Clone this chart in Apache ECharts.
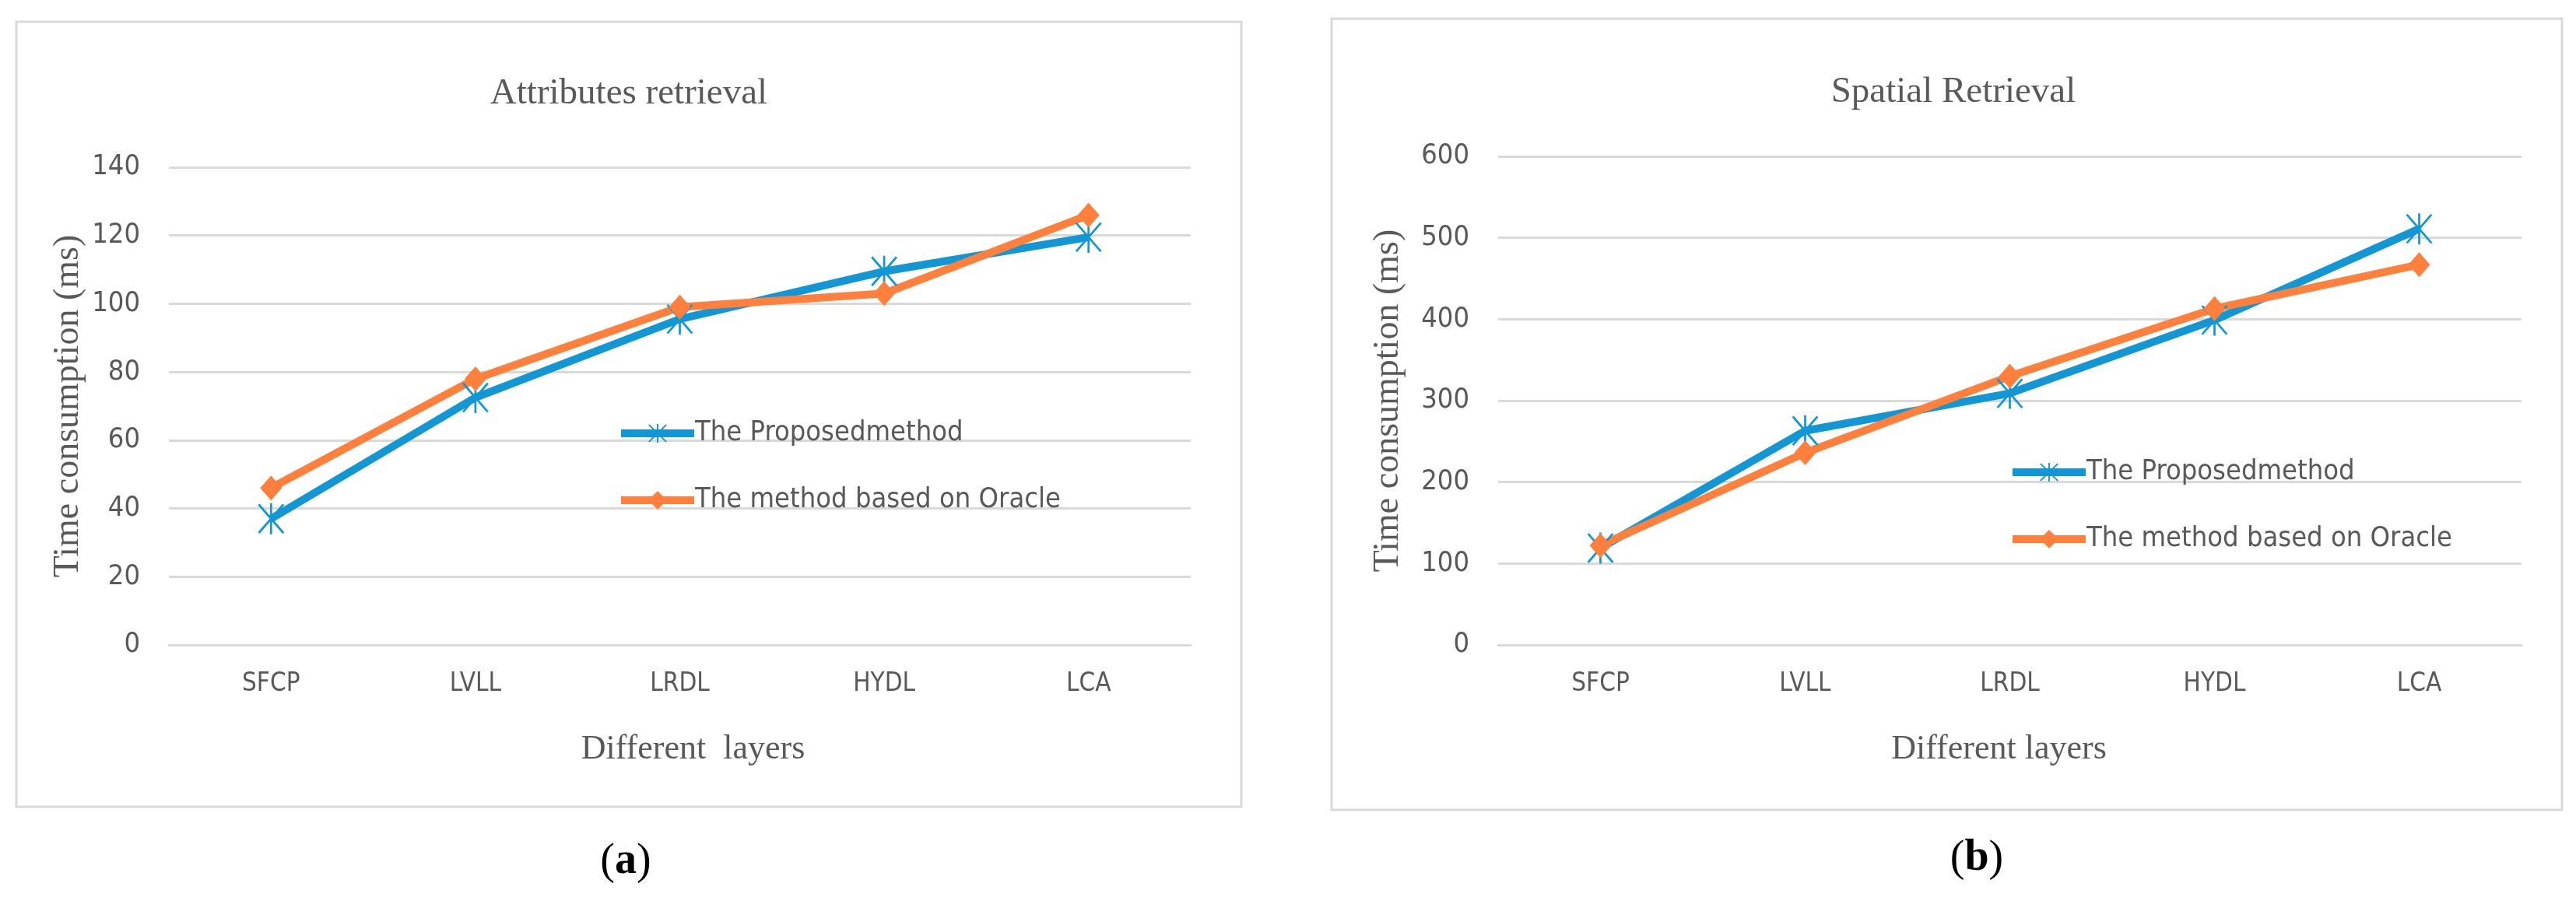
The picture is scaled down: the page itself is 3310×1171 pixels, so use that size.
<!DOCTYPE html>
<html>
<head>
<meta charset="utf-8">
<script src="https://cdn.jsdelivr.net/npm/echarts@6/dist/echarts.min.js"></script>
<style>
html,body{margin:0;padding:0;background:#fff;}
#chart{width:3310px;height:1171px;}
</style>
</head>
<body>
<div id="chart"></div>
<script>
const categories = ['SFCP', 'LVLL', 'LRDL', 'HYDL', 'LCA'];
const seriesNames = ['The Proposedmethod', 'The method based on Oracle'];
const attrProposed = [37, 72.5, 95.5, 109.5, 119.5];
const attrOracle = [46, 78, 99, 103, 126];
const spatialProposed = [119, 263, 309, 399, 511];
const spatialOracle = [122, 236, 330, 413, 467];
const attrTicks = { min: 0, max: 140, interval: 20 };
const spatialTicks = { min: 0, max: 600, interval: 100 };
const titles = ['Attributes retrieval', 'Spatial Retrieval'];
const xNames = ['Different  layers', 'Different layers'];
const yName = 'Time consumption (ms)';

const BLUE = '#1296D4';
const ORANGE = '#FF7F3C';
const GRAY = '#595959';
const LINEGRAY = '#D9D9D9';
const SANS = '"Liberation Sans Narrow","DejaVu Sans Condensed","Liberation Sans",sans-serif';
const SERIF = '"Liberation Serif","Times New Roman",serif';

const starPath = 'path://M9.4,0 L10.6,0 L10.6,20 L9.4,20 Z M2.5,1.2 L3.5,0.4 L17.5,18.8 L16.5,19.6 Z M16.5,0.4 L17.5,1.2 L3.5,19.6 L2.5,18.8 Z';

const chart = echarts.init(document.getElementById('chart'));

function yAxisCfg(idx, ticks, gap) {
  return {
    type: 'value', gridIndex: idx, min: ticks.min, max: ticks.max, interval: ticks.interval,
    axisLine: { show: false }, axisTick: { show: false },
    axisLabel: { fontFamily: SANS, fontSize: 36, color: GRAY, margin: 37 },
    splitLine: { lineStyle: { color: LINEGRAY, width: 3 } },
    name: yName, nameLocation: 'middle', nameGap: gap,
    nameTextStyle: { fontFamily: SERIF, fontSize: 46, color: GRAY }
  };
}
function xAxisCfg(idx, name, shift) {
  return {
    type: 'category', gridIndex: idx, data: categories, boundaryGap: true,
    axisLine: { show: true, lineStyle: { color: LINEGRAY, width: 3 } },
    axisTick: { show: false },
    axisLabel: { fontFamily: SANS, fontSize: 33, color: GRAY, margin: 34 },
    name: name, nameLocation: 'middle', nameGap: 112,
    nameTextStyle: { fontFamily: SERIF, fontSize: 44, color: GRAY, padding: [0, 0, 0, shift] }
  };
}
function lineSeries(name, data, idx, color, symbol, size) {
  return {
    name: name, type: 'line', xAxisIndex: idx, yAxisIndex: idx, data: data,
    symbol: symbol, symbolSize: size, showSymbol: true,
    lineStyle: { color: color, width: 10 },
    itemStyle: { color: color },
    emphasis: { disabled: true }
  };
}
function legendCfg(left, top) {
  return {
    data: seriesNames, orient: 'vertical', left: left, top: top,
    itemWidth: 94, itemHeight: 30, itemGap: 50,
    lineStyle: { width: 10 },
    textStyle: { fontFamily: SANS, fontSize: 36, color: GRAY, padding: [0, 0, 0, -4] },
    selectedMode: false
  };
}

const option = {
  backgroundColor: '#ffffff',
  animation: false,
  title: [
    { text: titles[0], left: 803, top: 92, textAlign: 'center',
      textStyle: { fontFamily: SERIF, fontSize: 47, fontWeight: 'normal', color: GRAY } },
    { text: titles[1], left: 2505, top: 90, textAlign: 'center',
      textStyle: { fontFamily: SERIF, fontSize: 47, fontWeight: 'normal', color: GRAY } }
  ],
  legend: [legendCfg(788, 534), legendCfg(2576, 584)],
  grid: [
    { left: 217, top: 215, width: 1313, height: 614, containLabel: false },
    { left: 1925, top: 201, width: 1315, height: 628, containLabel: false }
  ],
  xAxis: [xAxisCfg(0, xNames[0], 34), xAxisCfg(1, xNames[1], -28)],
  yAxis: [yAxisCfg(0, attrTicks, 106), yAxisCfg(1, spatialTicks, 118)],
  series: [
    lineSeries(seriesNames[0], attrProposed, 0, BLUE, starPath, [34, 40]),
    lineSeries(seriesNames[1], attrOracle, 0, ORANGE, 'diamond', [28, 32]),
    lineSeries(seriesNames[0], spatialProposed, 1, BLUE, starPath, [34, 40]),
    lineSeries(seriesNames[1], spatialOracle, 1, ORANGE, 'diamond', [28, 32])
  ],
  graphic: [
    { type: 'rect', shape: { x: 21, y: 28, width: 1574, height: 1009 }, style: { fill: null, stroke: LINEGRAY, lineWidth: 3 }, z: -1 },
    { type: 'rect', shape: { x: 1711, y: 24, width: 1581, height: 1017 }, style: { fill: null, stroke: LINEGRAY, lineWidth: 3 }, z: -1 },
    { type: 'text', x: 804, y: 1108, style: { text: '({b|a})', font: '56px ' + SERIF, fill: '#000', align: 'center', verticalAlign: 'middle',
        rich: { b: { fontWeight: 'bold', fontFamily: SERIF, fontSize: 56, fill: '#000' } } } },
    { type: 'text', x: 2540, y: 1104, style: { text: '({b|b})', font: '56px ' + SERIF, fill: '#000', align: 'center', verticalAlign: 'middle',
        rich: { b: { fontWeight: 'bold', fontFamily: SERIF, fontSize: 56, fill: '#000' } } } }
  ]
};
chart.setOption(option);
</script>
</body>
</html>
